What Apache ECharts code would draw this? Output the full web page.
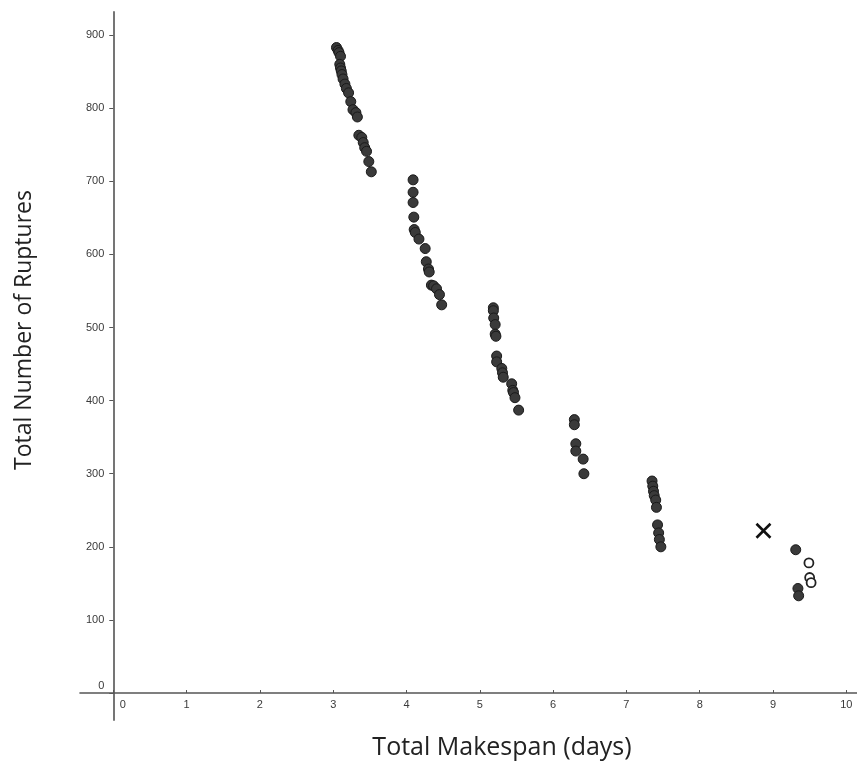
<!DOCTYPE html>
<html>
<head>
<meta charset="utf-8">
<script src="https://cdn.jsdelivr.net/npm/echarts@6/dist/echarts.min.js"></script>
<style>html,body{margin:0;padding:0;background:#fff}#c{width:857px;height:766px}</style>
</head>
<body>
<div id="c"></div>
<script>
// Data: [makespan (days), number of ruptures]
const filledPoints = [
  [3.045, 883], [3.067, 879], [3.08, 876], [3.10, 871], [3.09, 860], [3.10, 855],
  [3.11, 851], [3.12, 846], [3.135, 840], [3.16, 833], [3.18, 827], [3.21, 821],
  [3.24, 809], [3.27, 798], [3.31, 794], [3.33, 788], [3.35, 763], [3.39, 760],
  [3.41, 753], [3.43, 746], [3.455, 741], [3.486, 727], [3.52, 713],
  [4.09, 702], [4.09, 685], [4.09, 671], [4.10, 651], [4.105, 634], [4.12, 630],
  [4.17, 621], [4.255, 608], [4.27, 590], [4.30, 580], [4.31, 576], [4.34, 558],
  [4.37, 557], [4.41, 553], [4.45, 545], [4.48, 531],
  [5.185, 527], [5.185, 523], [5.19, 513], [5.21, 504], [5.21, 491], [5.22, 488],
  [5.23, 461], [5.23, 453], [5.30, 444], [5.31, 438], [5.32, 432], [5.435, 423],
  [5.45, 414], [5.46, 411], [5.48, 404], [5.53, 387],
  [6.29, 374], [6.29, 367], [6.31, 341], [6.31, 331], [6.41, 320], [6.42, 300],
  [7.35, 290], [7.36, 283], [7.37, 276], [7.38, 270], [7.40, 264], [7.41, 254],
  [7.425, 230], [7.44, 219], [7.45, 210], [7.47, 200],
  [9.31, 196], [9.34, 143], [9.35, 133]
];
const openPoints = [[9.49, 178], [9.50, 158], [9.52, 151]];
const crossPoints = [[8.87, 222]];
const xTickValues = [0, 1, 2, 3, 4, 5, 6, 7, 8, 9, 10];
const yTickValues = [0, 100, 200, 300, 400, 500, 600, 700, 800, 900];
const xTitle = 'Total Makespan (days)';
const yTitle = 'Total Number of Ruptures';

const X_MIN = -0.454, X_MAX = 10.146, Y_MIN = -36.9, Y_MAX = 931.6;
const G_LEFT = 80, G_RIGHT = 0, G_TOP = 12, G_BOTTOM = 46, W = 857, H = 766;
const gw = W - G_LEFT - G_RIGHT, gh = H - G_TOP - G_BOTTOM;
// offsets that put the axis lines at the zero of the other axis
const yAxisOffset = -(-X_MIN / (X_MAX - X_MIN)) * gw;
const xAxisOffset = -(-Y_MIN / (Y_MAX - Y_MIN)) * gh;

const chart = echarts.init(document.getElementById('c'), null, {renderer: 'canvas'});
const tickFont = {fontFamily: 'Liberation Sans', fontSize: 11, color: '#3a3a3a'};
chart.setOption({
  animation: false,
  backgroundColor: '#fff',
  grid: {left: G_LEFT, right: G_RIGHT, top: G_TOP, bottom: G_BOTTOM, containLabel: false},
  xAxis: {
    type: 'value', min: X_MIN, max: X_MAX, offset: xAxisOffset,
    axisLine: {onZero: false, lineStyle: {color: '#555', width: 1.6}},
    axisTick: {inside: true, length: 3, lineStyle: {color: '#555'}, customValues: xTickValues},
    axisLabel: Object.assign({}, tickFont, {
      customValues: xTickValues, margin: 6,
      formatter: v => v === 0 ? '{z|0}' : String(v),
      rich: {z: Object.assign({}, tickFont, {padding: [0, 0, 0, 19]})}
    }),
    splitLine: {show: false}
  },
  yAxis: {
    type: 'value', min: Y_MIN, max: Y_MAX, offset: yAxisOffset,
    axisLine: {onZero: false, lineStyle: {color: '#666', width: 1.8}},
    axisTick: {length: 4, lineStyle: {color: '#555'}, customValues: yTickValues},
    axisLabel: Object.assign({}, tickFont, {
      customValues: yTickValues, margin: 9,
      formatter: v => v === 0 ? '{z|0}' : String(v),
      rich: {z: Object.assign({}, tickFont, {padding: [0, 0, 14, 0]})}
    }),
    splitLine: {show: false}
  },
  graphic: [
    {type: 'text', x: 502, y: 748,
     style: {text: xTitle, font: '25px "Open Sans"', fill: '#222', align: 'center', verticalAlign: 'middle'}},
    {type: 'text', x: 24, y: 330, rotation: Math.PI / 2,
     style: {text: yTitle, font: '23px "Open Sans"', fill: '#222', align: 'center', verticalAlign: 'middle'}}
  ],
  series: [
    {type: 'scatter', data: filledPoints, symbol: 'circle', symbolSize: 10,
     itemStyle: {color: '#3a3a3a', borderColor: '#1a1a1a', borderWidth: 1, opacity: 1}},
    {type: 'scatter', data: openPoints, symbol: 'circle', symbolSize: 9,
     itemStyle: {color: '#fff', borderColor: '#222', borderWidth: 1.8, opacity: 1}},
    {type: 'scatter', data: crossPoints, symbol: 'path://M0,0 L10,10 M10,0 L0,10', symbolSize: 14,
     itemStyle: {color: 'none', borderColor: '#111', borderWidth: 2.6, opacity: 1}}
  ]
});
</script>
</body>
</html>
